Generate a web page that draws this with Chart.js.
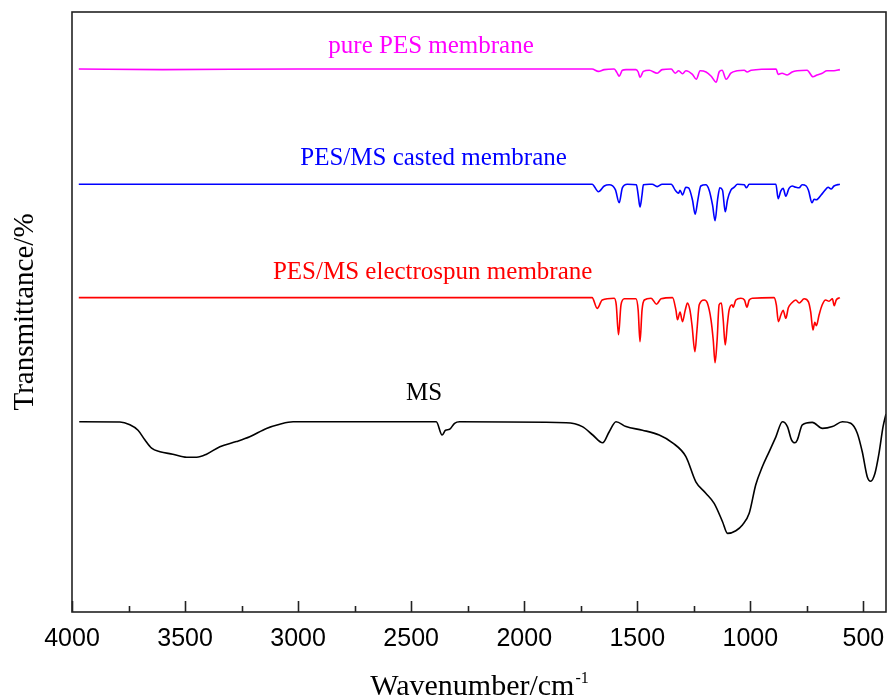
<!DOCTYPE html>
<html>
<head>
<meta charset="utf-8">
<title>FTIR spectra</title>
<script src="https://cdn.jsdelivr.net/npm/chart.js@4.4.1/dist/chart.umd.min.js"></script>
<style>
  html, body { margin: 0; padding: 0; background: #fff; }
  #wrap { width: 888px; height: 699px; }
</style>
</head>
<body>
<div id="wrap"><canvas id="ftirChart" width="888" height="699"></canvas></div>
<script>
// x axis (wavenumber, cm-1), shown reversed
const xTicks = [4000, 3500, 3000, 2500, 2000, 1500, 1000, 500];

// pure PES membrane
const pesWn = [3970, 3600, 3000, 2400, 1700, 1672, 1646, 1602, 1590, 1580, 1566, 1550, 1506, 1496, 1488, 1473,
  1447, 1412, 1390, 1350, 1332, 1317, 1300, 1285, 1256, 1239, 1222, 1196, 1173, 1151, 1138, 1125, 1107, 1086,
  1058, 1027, 1014, 996, 886, 877, 860, 837, 815, 793, 749, 723, 705, 682, 661, 630, 604];
const pesT = [90.5, 90.4, 90.5, 90.5, 90.5, 90.1, 90.4, 90.5, 89.9, 89.3, 90.3, 90.4, 90.4, 90.0, 89.1, 90.1,
  90.3, 89.8, 90.4, 90.5, 89.8, 90.2, 89.7, 90.2, 89.6, 88.8, 90.2, 90.0, 89.3, 88.3, 90.0, 90.3, 88.8, 89.8,
  90.2, 90.3, 90.0, 90.3, 90.5, 89.6, 89.8, 89.5, 90.0, 90.2, 90.3, 89.2, 89.5, 89.8, 90.2, 90.2, 90.4];

// PES/MS casted membrane
const castWn = [3970, 1700, 1672, 1646, 1624, 1597, 1580, 1566, 1544, 1504, 1496, 1488, 1479, 1473, 1447, 1434,
  1412, 1390, 1350, 1332, 1317, 1311, 1300, 1285, 1273, 1256, 1244, 1232, 1219, 1197, 1182, 1167, 1156, 1145,
  1135, 1123, 1111, 1101, 1086, 1071, 1057, 1027, 1017, 1005, 887, 877, 865, 855, 843, 829, 815, 799, 784, 771,
  753, 743, 727, 718, 708, 687, 670, 656, 643, 630, 604];
const castT = [71.3, 71.3, 70.05, 71.0, 71.2, 70.4, 68.2, 70.7, 71.3, 71.2, 69.5, 67.5, 69.5, 71.2, 71.3, 71.3,
  70.9, 71.3, 71.3, 70.3, 69.8, 70.3, 69.5, 70.8, 70.7, 68.7, 66.3, 68.7, 71.0, 71.2, 70.3, 67.8, 65.2, 68.7,
  70.7, 70.3, 66.7, 68.7, 70.3, 70.8, 71.3, 71.2, 70.7, 71.3, 71.3, 68.9, 70.2, 70.6, 69.3, 70.6, 71.0, 70.8, 70.7, 71.2,
  71.0, 70.3, 68.2, 68.8, 68.7, 69.5, 70.3, 70.8, 70.5, 71.0, 71.3];

// PES/MS electrospun membrane
const spunWn = [3970, 1700, 1677, 1655, 1602, 1593, 1583, 1572, 1557, 1506, 1496, 1488, 1479, 1469, 1439, 1415,
  1395, 1344, 1329, 1322, 1311, 1300, 1288, 1278, 1267, 1258, 1245, 1236, 1226, 1204, 1190, 1174, 1164, 1156,
  1147, 1138, 1128, 1120, 1111, 1102, 1094, 1081, 1076, 1064, 1042, 1026, 1015, 1005, 990, 895, 885, 876, 865,
  855, 843, 832, 817, 799, 784, 762, 743, 733, 723, 715, 708, 696, 682, 667, 652, 637, 629, 620, 604];
const spunT = [52.4, 52.4, 50.6, 52.0, 52.3, 51.2, 46.2, 51.2, 52.2, 52.2, 50.3, 45.05, 50.3, 52.0, 52.3, 51.3,
  52.2, 52.4, 50.3, 48.7, 50.0, 48.4, 50.3, 51.5, 50.3, 47.8, 43.4, 47.0, 51.2, 52.0, 51.5, 48.7, 45.3, 41.55,
  45.3, 51.2, 51.5, 48.7, 44.5, 47.8, 50.3, 51.2, 50.8, 52.0, 52.3, 52.0, 50.8, 52.0, 52.3, 52.4, 51.2, 48.4, 49.5,
  50.3, 48.95, 50.7, 51.5, 52.0, 51.5, 52.2, 51.7, 50.0, 47.0, 48.3, 47.7, 49.5, 51.2, 52.0, 51.8, 52.2, 51.05, 52.0, 52.4];

// MS
const msWn = [3968, 3788, 3744, 3708, 3678, 3648, 3611, 3554, 3493, 3449, 3405, 3346, 3273, 3214, 3140, 3081,
  3022, 2389, 2363, 2348, 2330, 2308, 2286, 1815, 1743, 1697, 1653, 1624, 1594, 1550, 1477, 1403, 1344, 1285,
  1241, 1197, 1160, 1123, 1101, 1064, 1035, 1005, 976, 947, 917, 887, 858, 836, 818, 803, 792, 770, 726, 681,
  637, 593, 556, 527, 505, 483, 468, 449, 431, 413, 400];
const msT = [31.7, 31.67, 31.2, 30.3, 28.7, 27.3, 26.7, 26.3, 25.8, 25.8, 26.3, 27.55, 28.4, 29.2, 30.6, 31.3,
  31.7, 31.7, 29.5, 30.3, 30.45, 31.45, 31.7, 31.55, 30.9, 29.5, 28.2, 30.05, 31.7, 30.9, 30.3, 29.5, 28.2, 25.9,
  21.7, 19.8, 18.1, 15.05, 13.1, 13.55, 14.5, 16.45, 21.2, 24.2, 26.7, 29.2, 31.7, 30.9, 28.7, 28.2, 28.7, 31.2, 31.6, 30.6,
  30.9, 31.7, 31.45, 29.8, 26.7, 22.55, 21.8, 23.1, 26.45, 30.9, 33.0];

const toPoints = (wn, t) => wn.map((w, i) => ({ x: w, y: t[i] }));

// curve labels, placed in data coordinates
const curveLabels = [
  { text: "pure PES membrane", x: 2412, y: 93.2, color: "#ff00ff" },
  { text: "PES/MS casted membrane", x: 2401, y: 74.5, color: "#0000ff" },
  { text: "PES/MS electrospun membrane", x: 2405, y: 55.5, color: "#ff0000" },
  { text: "MS", x: 2443, y: 35.3, color: "#000000" },
];

const serif = "'Liberation Serif', 'Times New Roman', serif";

const frameTicks = {
  id: "frameTicks",
  afterDatasetsDraw(chart) {
    const { ctx, chartArea: a, scales: { x } } = chart;
    ctx.save();
    ctx.strokeStyle = "#222";
    ctx.lineWidth = 1.6;
    ctx.strokeRect(a.left, a.top, a.right - a.left, a.bottom - a.top);
    const marks = [];
    xTicks.forEach((v, i) => {
      marks.push([v, 11]);
      if (i < xTicks.length - 1) marks.push([(v + xTicks[i + 1]) / 2, 6]);
    });
    marks.forEach(([v, len]) => {
      const px = Math.round(x.getPixelForValue(v)) + 0.5;
      ctx.beginPath();
      ctx.moveTo(px, a.bottom);
      ctx.lineTo(px, a.bottom - len);
      ctx.stroke();
    });
    ctx.restore();
  },
};

const textLayer = {
  id: "textLayer",
  afterDraw(chart) {
    const { ctx, chartArea: a, scales: { x, y } } = chart;
    ctx.save();
    ctx.textAlign = "center";
    ctx.textBaseline = "alphabetic";
    ctx.font = "25px " + serif;
    curveLabels.forEach((l) => {
      ctx.fillStyle = l.color;
      ctx.fillText(l.text, x.getPixelForValue(l.x), y.getPixelForValue(l.y));
    });
    // x axis title with superscript
    const main = "Wavenumber/cm";
    const sup = "-1";
    ctx.fillStyle = "#000";
    ctx.textAlign = "left";
    ctx.font = "30px " + serif;
    const w1 = ctx.measureText(main).width;
    ctx.font = "16px " + serif;
    const w2 = ctx.measureText(sup).width;
    const x0 = (a.left + a.right) / 2 - (w1 + w2) / 2;
    ctx.font = "30px " + serif;
    ctx.fillText(main, x0, chart.height - 4);
    ctx.font = "16px " + serif;
    ctx.fillText(sup, x0 + w1 + 1, chart.height - 16);
    ctx.restore();
  },
};

new Chart(document.querySelector("#ftirChart"), {
  type: "line",
  data: {
    datasets: [
      { label: "pure PES membrane", data: toPoints(pesWn, pesT), borderColor: "#ff00ff" },
      { label: "PES/MS casted membrane", data: toPoints(castWn, castT), borderColor: "#0000ff" },
      { label: "PES/MS electrospun membrane", data: toPoints(spunWn, spunT), borderColor: "#ff0000" },
      { label: "MS", data: toPoints(msWn, msT), borderColor: "#000000" },
    ],
  },
  options: {
    responsive: false,
    animation: false,
    layout: { padding: { top: 12, right: 2, left: 0, bottom: 0 } },
    elements: {
      line: { borderWidth: 1.6, cubicInterpolationMode: "monotone", fill: false },
      point: { radius: 0 },
    },
    scales: {
      x: {
        type: "linear",
        min: 400,
        max: 4000,
        reverse: true,
        afterBuildTicks: (scale) => {
          scale.ticks = xTicks.map((v) => ({ value: v }));
        },
        afterFit: (scale) => {
          scale.height = 87;
          scale.paddingLeft = 0;
          scale.paddingRight = 0;
        },
        grid: { display: false, drawTicks: false },
        border: { display: false },
        ticks: {
          autoSkip: false,
          maxRotation: 0,
          padding: 12,
          color: "#000",
          font: { family: "'Liberation Sans', Arial, sans-serif", size: 25 },
          callback: (v) => String(v),
        },
      },
      y: {
        min: 0,
        max: 100,
        afterFit: (scale) => {
          scale.width = 72;
        },
        grid: { display: false, drawTicks: false },
        border: { display: false },
        ticks: { display: false },
        title: {
          display: true,
          text: "Transmittance/%",
          color: "#000",
          padding: { top: 8, bottom: 0 },
          font: { family: serif, size: 29 },
        },
      },
    },
    plugins: {
      legend: { display: false },
      tooltip: { enabled: false },
    },
  },
  plugins: [frameTicks, textLayer],
});
</script>
</body>
</html>
